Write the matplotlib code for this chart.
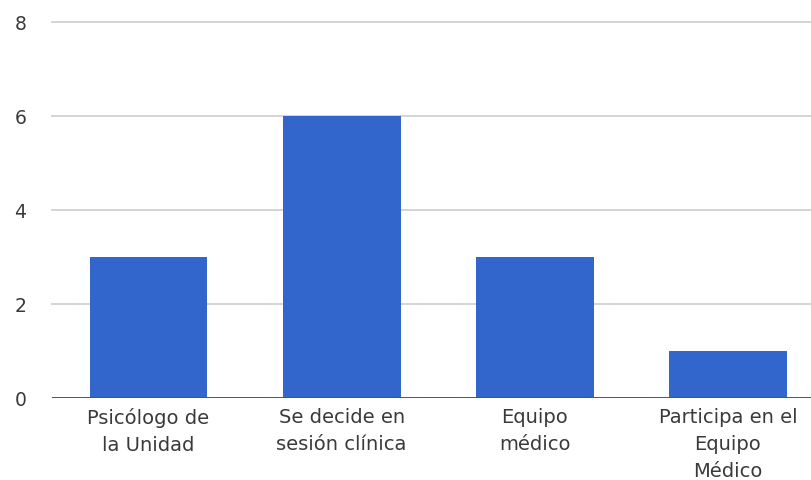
import matplotlib
matplotlib.use("Agg")
import matplotlib.pyplot as plt

categories = ["Psicólogo de\nla Unidad", "Se decide en\nsesión clínica",
              "Equipo\nmédico", "Participa en el\nEquipo\nMédico"]
values = [3, 6, 3, 1]
y_ticks = [0, 2, 4, 6, 8]

BAR_COLOR = "#3366cc"
TEXT_COLOR = "#3a3a3a"

fig = plt.figure(figsize=(8.12, 4.8), dpi=100)
# plot area runs slightly past the right edge of the canvas
ax = fig.add_axes([52 / 812, 82 / 480, (824.5 - 52) / 812, (398 - 22) / 480])

x = list(range(len(categories)))
ax.bar(x, values, width=0.61, color=BAR_COLOR, zorder=3)

ax.set_xlim(-0.5, len(categories) - 0.5)
ax.set_ylim(0, 8)
ax.set_yticks(y_ticks)
ax.set_yticklabels([str(t) for t in y_ticks])
ax.set_xticks(x)
ax.set_xticklabels(categories)

for t in y_ticks[1:]:
    ax.axhline(t, color="#d4d4d4", linewidth=1.4, zorder=1, clip_on=False)
ax.axhline(0, color="#555555", linewidth=1.4, zorder=4)

for s in ax.spines.values():
    s.set_visible(False)

ax.tick_params(axis="y", length=0, pad=18.5, labelsize=13.5, labelcolor=TEXT_COLOR)
ax.tick_params(axis="x", length=0, pad=7, labelsize=14, labelcolor=TEXT_COLOR)
for lbl in ax.get_xticklabels():
    lbl.set_linespacing(1.55)
    lbl.set_horizontalalignment("center")

fig.savefig("out.png", dpi=100, facecolor="white")
